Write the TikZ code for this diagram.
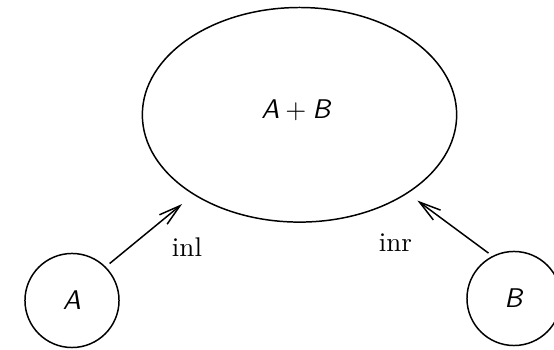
\documentclass[tikz,border=0pt]{standalone}
\usetikzlibrary{shapes.geometric,arrows.meta}
\begin{document}
\begin{tikzpicture}[x=0.37pt,y=-0.37pt,
  every path/.style={line width=0.55pt},
  circ/.style={draw,circle,minimum size=34.8pt,inner sep=0pt,line width=0.55pt},
  ell/.style={draw,ellipse,minimum width=116.3pt,minimum height=79.4pt,inner sep=0pt,line width=0.55pt},
  arr/.style={-{Straight Barb[length=8pt,width=4.5pt]},line width=0.55pt},
  lbl/.style={inner sep=0pt}]
\useasboundingbox (0,0) rectangle (554,350);
\node[ell] (AB) at (299.5,114.8) {};
\node[lbl] (ABt) at (296.5,110.5) {\textsf{\textsl{A}}${}+{}$\textsf{\textsl{B}}};
\node[circ] (A) at (72,300.5) {\textsf{\textsl{A}}};
\node[circ] (B) at (514,298.5) {\textsf{\textsl{B}}};
\draw[arr, shorten <=1.85pt, shorten >=5.4pt] (A.45) -- (AB.217.4);
\draw[arr, shorten <=1.75pt, shorten >=4.4pt] (B.117.3) -- (AB.-36);
\node[lbl] (inl) at (187,247.5) {inl};
\node[lbl] (inr) at (395.5,243) {inr};
\end{tikzpicture}
\end{document}
